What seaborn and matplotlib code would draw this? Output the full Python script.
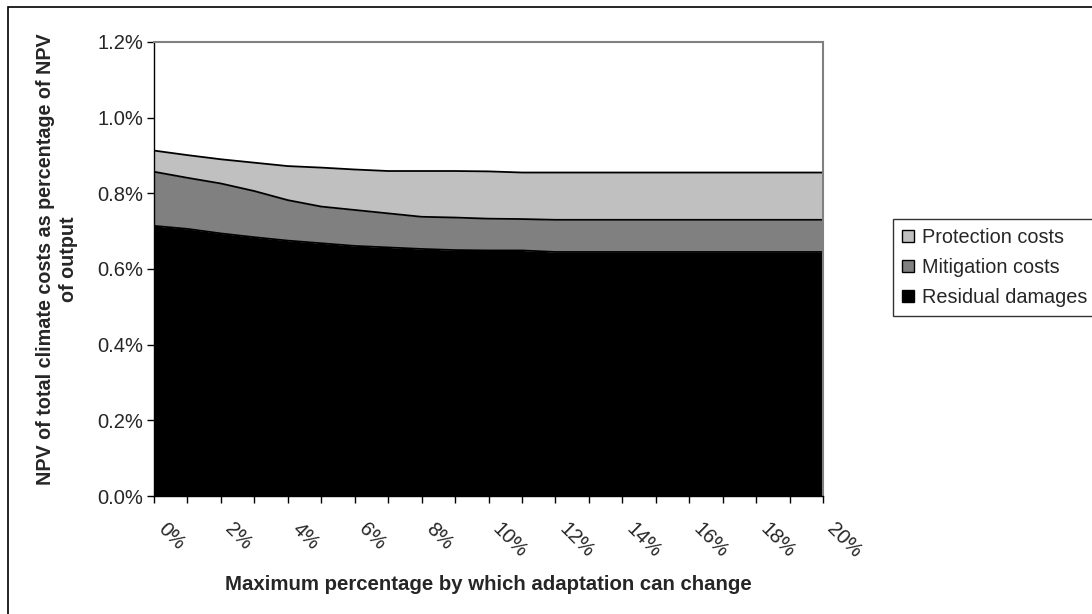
import numpy as np
import pandas as pd
import matplotlib
matplotlib.use("Agg")
import matplotlib.pyplot as plt
import seaborn as sns
from matplotlib.patches import Patch, Rectangle
from matplotlib.ticker import FuncFormatter, MultipleLocator
from matplotlib.transforms import ScaledTranslation

# x: max % adaptation can change, y: share of output (%)
adapt_change = list(range(0, 21))
residual = [0.714, 0.706, 0.694, 0.684, 0.675, 0.668, 0.661, 0.657, 0.653, 0.650, 0.649,
            0.649, 0.645, 0.645, 0.645, 0.645, 0.645, 0.645, 0.645, 0.645, 0.645]
mitigation = [0.143, 0.135, 0.132, 0.122, 0.107, 0.097, 0.095, 0.090, 0.085, 0.086, 0.084,
              0.083, 0.085, 0.085, 0.085, 0.085, 0.085, 0.085, 0.085, 0.085, 0.085]
protection = [0.056, 0.060, 0.064, 0.075, 0.090, 0.103, 0.107, 0.112, 0.121, 0.123, 0.125,
              0.123, 0.125, 0.125, 0.125, 0.125, 0.125, 0.125, 0.125, 0.125, 0.125]
series_names = ["Residual damages", "Mitigation costs", "Protection costs"]
series_colors = ["#000000", "#808080", "#C0C0C0"]

df = pd.DataFrame({"x": adapt_change, "Residual damages": residual,
                   "Mitigation costs": mitigation, "Protection costs": protection})

sns.set_style("white")
plt.rcParams["font.family"] = ["Liberation Sans", "DejaVu Sans"]

fig = plt.figure(figsize=(10.92, 6.14), dpi=100)
ax = fig.add_axes([154 / 1092, 118 / 614, 669 / 1092, 454 / 614])

ax.stackplot(df["x"], df["Residual damages"], df["Mitigation costs"], df["Protection costs"],
             colors=series_colors, linewidth=0)

# black edge lines on top of each layer
cum = df[series_names].cumsum(axis=1)
for name in series_names:
    sns.lineplot(x=df["x"], y=cum[name], ax=ax, color="black", linewidth=1.3)

ax.set_xlim(0, 20)
ax.set_ylim(0, 1.2)
ax.yaxis.set_major_locator(MultipleLocator(0.2))
ax.yaxis.set_major_formatter(FuncFormatter(lambda v, p: f"{v:.1f}%"))
ax.xaxis.set_major_locator(MultipleLocator(1))
ax.set_xticklabels([f"{int(v)}%" if int(round(v)) % 2 == 0 else "" for v in ax.get_xticks()])

ax.tick_params(axis="both", direction="out", length=5, width=1, color="black",
               labelsize=14.5, left=True, bottom=True)
ax.tick_params(axis="y", pad=3)
ax.tick_params(axis="x", pad=12)
for lab in ax.get_xticklabels():
    lab.set_rotation(-45)
    lab.set_ha("left")
    lab.set_va("top")
    lab.set_rotation_mode("anchor")
    lab.set_transform(lab.get_transform() + ScaledTranslation(0.14, 0, fig.dpi_scale_trans))

for side in ["top", "right"]:
    ax.spines[side].set_visible(True)
    ax.spines[side].set_color("#808080")
    ax.spines[side].set_linewidth(1.5)
for side in ["left", "bottom"]:
    ax.spines[side].set_color("black")
    ax.spines[side].set_linewidth(1)

ax.set_xlabel("Maximum percentage by which adaptation can change",
              fontsize=14.7, fontweight="bold", labelpad=10)
ax.set_ylabel("NPV of total climate costs as percentage of NPV\nof output",
              fontsize=14.2, fontweight="bold", linespacing=1.25)
ax.yaxis.set_label_coords(-0.114, 0.522)

handles = [Patch(facecolor=c, edgecolor="black", linewidth=1, label=n)
           for n, c in zip(series_names[::-1], series_colors[::-1])]
leg = fig.legend(handles=handles, loc="center left", bbox_to_anchor=(893 / 1092, 0.5643),
                 frameon=True, fancybox=False, fontsize=14.3, handlelength=0.6,
                 handleheight=0.6, handletextpad=0.4, borderpad=0.45, labelspacing=0.55,
                 borderaxespad=0)
leg.get_frame().set_edgecolor("black")
leg.get_frame().set_linewidth(1)

# outer chart frame (only top/left visible in the crop)
fig.patches.append(Rectangle((8 / 1092, -0.1), 1.2, (607 / 614) + 0.1, transform=fig.transFigure,
                             fill=False, edgecolor="black", linewidth=1.2))

fig.savefig("out.png", dpi=100)
